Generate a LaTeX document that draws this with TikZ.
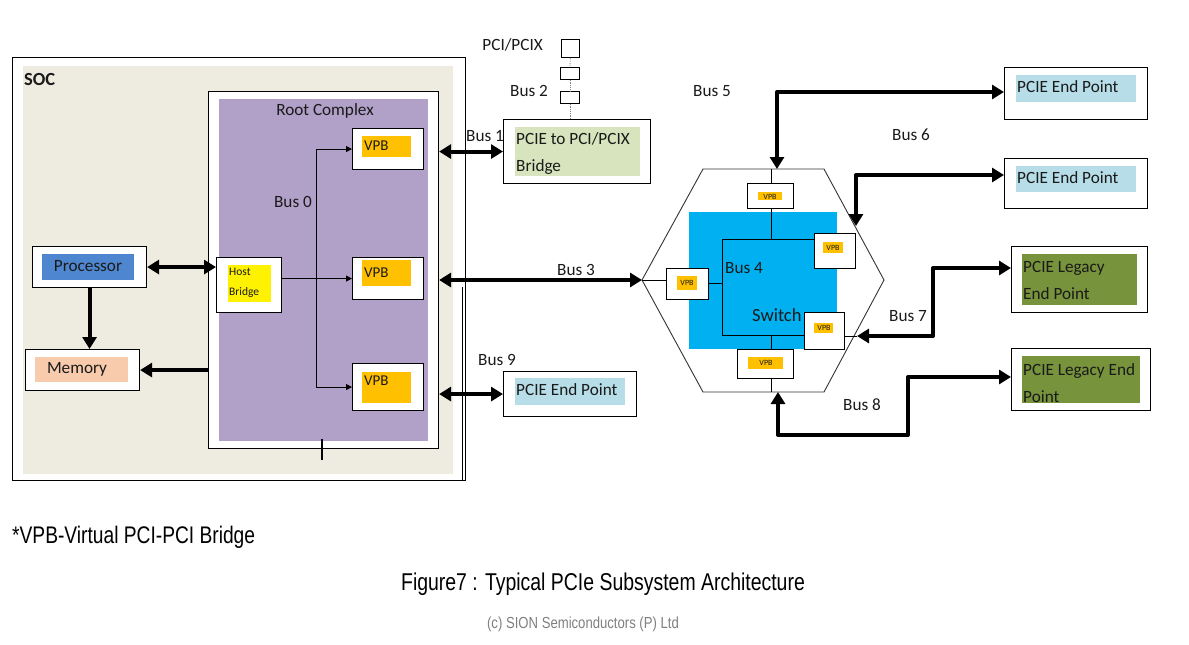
\documentclass[tikz,border=0pt]{standalone}
\usepackage{fontspec}
\usepackage{graphicx}
\setmainfont{Carlito}
\newfontfamily\arialf{Liberation Sans}
\usetikzlibrary{arrows.meta}
\definecolor{beige}{HTML}{EEECE1}
\definecolor{rcpurple}{HTML}{B1A0C7}
\definecolor{procblue}{HTML}{4F86D0}
\definecolor{peach}{HTML}{F8CBAD}
\definecolor{bridgegreen}{HTML}{D7E4BD}
\definecolor{epblue}{HTML}{B7DEE8}
\definecolor{olive}{HTML}{77933C}
\definecolor{swblue}{HTML}{00B0F0}
\definecolor{vpborange}{HTML}{FFC000}
\definecolor{txt}{HTML}{1A1A1A}
\newcommand\R[7]{\node[#2,anchor=north west,inner sep=0pt,minimum width={(#5)-(#3)},minimum height={(#6)-(#4)}] (#1) at (#3,#4) {#7};}
\tikzset{
  box/.style={draw=black,line width=1.1pt,fill=white},
  fillonly/.style={fill=#1,draw=none},
  lbl/.style={font=\fontsize{17.2}{20}\selectfont,text=txt,inner sep=0pt,anchor=west},
  lbltwo/.style={font=\fontsize{17.2}{27}\selectfont,text=txt,inner sep=0pt,anchor=north west,align=left},
  smallvpb/.style={font=\fontsize{8}{9}\selectfont,text=txt,inner sep=0pt},
  bigarr/.style={line width=4pt,line join=round,{Triangle[length=12pt,width=14pt]}-{Triangle[length=12pt,width=14pt]}},
  bigone/.style={line width=4pt,line join=round,-{Triangle[length=12pt,width=14pt]}},
  thinarr/.style={line width=1pt,-{Triangle[length=6pt,width=6pt]}},
  thinline/.style={line width=1pt},
}
\begin{document}
\begin{tikzpicture}[x=1pt,y=-1pt]
\useasboundingbox (0,0) rectangle (1189,645);
% SOC
\R{soc}{box,line width=1.2pt}{12}{57}{465}{480}{}
\R{socbg}{fillonly=beige}{23}{66}{453}{474}{}
\coordinate (socj) at (462,287);
\draw[line width=1pt] (socj) -- (socj |- soc.south);
\node[font=\fontsize{18.5}{20}\selectfont\bfseries,text=txt,inner sep=0pt,anchor=west] (soct) at (24,79) {SOC};
% Root complex
\R{rc}{box}{208}{91}{438}{448}{}
\R{rcp}{fillonly=rcpurple}{219}{99}{428}{441}{}
\node[lbl,anchor=center] (rct) at (325,111) {Root Complex};
\R{vpb1}{box}{352}{128}{423}{169}{}
\R{vpb1o}{fillonly=vpborange}{362}{136}{411}{157}{}
\R{vpb2}{box}{352}{257}{423}{299}{}
\R{vpb2o}{fillonly=vpborange}{362}{260}{411}{286}{}
\R{vpb3}{box}{352}{363}{423}{410}{}
\R{vpb3o}{fillonly=vpborange}{362}{372}{411}{403}{}
\node[lbl,font=\fontsize{15}{18}\selectfont] (vpb1t) at (364,146) {VPB};
\node[lbl,font=\fontsize{15}{18}\selectfont] (vpb2t) at (364,273) {VPB};
\node[lbl,font=\fontsize{15}{18}\selectfont] (vpb3t) at (364,381) {VPB};
\R{hb}{box}{216}{257}{281}{312}{}
\R{hby}{fillonly=yellow}{228}{265}{271}{302}{}
\node[lbltwo,font=\fontsize{11.5}{20}\selectfont] (hbt) at (229,268) {Host\\Bridge};
% Bus 0
\coordinate (b0x) at (316,0);
\draw[thinline] (vpb1.west -| b0x) -- (vpb3.west -| b0x);
\draw[thinarr] (vpb1.west -| b0x) -- (vpb1.west);
\draw[thinarr] (vpb3.west -| b0x) -- (vpb3.west);
\draw[thinarr] (hb.east |- vpb2.west) -- (vpb2.west);
\node[lbl,anchor=center] (b0t) at (293,202) {Bus 0};
\coordinate (tk) at (322,460);
\draw[line width=1.2pt] (tk) -- ++(0,-21);
% Processor, memory
\R{proc}{box}{32}{246}{146}{287}{}
\R{procb}{fillonly=procblue}{42}{254}{134}{280}{}
\node[lbl,anchor=center] (proct) at (88,266) {Processor};
\R{mem}{box}{25}{349}{139}{390}{}
\R{memp}{fillonly=peach}{35}{357}{128}{382}{}
\node[lbl,anchor=center] (memt) at (77,369) {Memory};
\draw[bigarr] (proc.east) -- (proc.east -| hb.west);
\draw[bigone] (proc.south) -- (proc.south |- mem.north);
\draw[bigone] (rc.west |- mem.east) -- (mem.east);
% PCI/PCIX bridge
\R{br}{box}{503}{119}{650}{183}{}
\R{brg}{fillonly=bridgegreen}{515}{127}{640}{176}{}
\node[lbltwo] (brt) at (516,132) {PCIE to PCI/PCIX\\Bridge};
\R{p1}{draw=black,line width=0.8pt,fill=white}{561}{39}{579}{57}{}
\R{p2}{draw=black,line width=0.8pt,fill=white}{560}{67}{579}{79}{}
\R{p3}{draw=black,line width=0.8pt,fill=white}{560}{91}{579}{103}{}
\draw[gray,densely dotted,line width=0.8pt] (p1.south) -- (p2.north);
\draw[gray,densely dotted,line width=0.8pt] (p2.south) -- (p3.north);
\draw[gray,densely dotted,line width=0.8pt] (p3.south) -- (p3.south |- br.north);
\node[lbl,anchor=east] (pcit) at (543,45) {PCI/PCIX};
\node[lbl] (b2t) at (510,91) {Bus 2};
\draw[bigarr] (rc.east |- br.west) -- (br.west);
\node[lbl] (b1t) at (466,136) {Bus 1};
% Bus 9 endpoint
\R{ep9}{box}{503}{371}{636}{416}{}
\R{ep9b}{fillonly=epblue}{515}{378}{625}{405}{}
\node[lbl] (ep9t) at (516,390) {PCIE End Point};
\draw[bigarr] (rc.east |- ep9.west) -- (ep9.west);
\node[lbl] (b9t) at (478,360) {Bus 9};
% Switch
\coordinate (hl) at (642,280);
\coordinate (htl) at (703,169);
\coordinate (htr) at (824,169);
\coordinate (hr) at (884,280);
\coordinate (hbr) at (824,392);
\coordinate (hbl) at (703,392);
\draw[line width=0.9pt,draw=black!80] (hl) -- (htl) -- (htr) -- (hr) -- (hbr) -- (hbl) -- cycle;
\R{swb}{fillonly=swblue}{689}{212}{837}{349}{}
\node[lbl,font=\fontsize{18.5}{20}\selectfont] (swt) at (752,315) {Switch};
\node[lbl] (b4t) at (725,268) {Bus 4};
\R{vT}{box,line width=0.9pt}{747}{183}{793}{208}{}
\R{vTo}{fillonly=vpborange}{758}{192}{782}{200}{}
\node[smallvpb] (vTt) at (770,197) {VPB};
\R{vL}{box,line width=0.9pt}{666}{268}{708}{299}{}
\R{vLo}{fillonly=vpborange}{677}{276}{697}{290}{}
\node[smallvpb] (vLt) at (687,283) {VPB};
\R{vR1}{box,line width=0.9pt}{814}{233}{855}{268}{}
\R{vR1o}{fillonly=vpborange}{823}{242}{843}{253}{}
\node[smallvpb] (vR1t) at (833,248) {VPB};
\R{vR2}{box,line width=0.9pt}{804}{312}{844}{349}{}
\R{vR2o}{fillonly=vpborange}{814}{323}{833}{333}{}
\node[smallvpb] (vR2t) at (824,328) {VPB};
\R{vB}{box,line width=0.9pt}{737}{349}{793}{378}{}
\R{vBo}{fillonly=vpborange}{748}{357}{783}{369}{}
\node[smallvpb] (vBt) at (766,363) {VPB};
\coordinate (i1) at (722,239);
\coordinate (i2) at (722,335);
\coordinate (vx) at (771,0);
\draw[thinline] (vR1.west |- i1) -- (i1) -- (i2) -- (vR2.west |- i2);
\draw[thinline] (vL.east) -- (vL.east -| i1);
\draw[thinline] (hl) -- (vL.west |- hl);
\draw[thinline] (vT.south -| vx) -- (i1 -| vx);
\draw[thinline] (vT.north -| vx) -- (htl -| vx);
\draw[thinline] (i2 -| vx) -- (vB.north -| vx);
\draw[thinline] (vB.south -| vx) -- (hbl -| vx);
% Bus 3
\draw[bigarr] (rc.east |- hl) -- (hl);
\node[lbl] (b3t) at (557,270) {Bus 3};
% Right endpoints
\R{ep1}{box}{1004}{67}{1147}{119}{}
\R{ep1b}{fillonly=epblue}{1016}{75}{1136}{102}{}
\node[lbl] (ep1t) at (1017,87) {PCIE End Point};
\R{ep2}{box}{1004}{158}{1147}{208}{}
\R{ep2b}{fillonly=epblue}{1016}{166}{1136}{192}{}
\node[lbl] (ep2t) at (1017,178) {PCIE End Point};
\R{lg1}{box}{1011}{246}{1147}{312}{}
\R{lg1b}{fillonly=olive}{1022}{254}{1137}{305}{}
\node[lbltwo] (lg1t) at (1023,261) {PCIE Legacy\\End Point};
\R{lg2}{box}{1011}{348}{1150}{410}{}
\R{lg2b}{fillonly=olive}{1022}{356}{1140}{403}{}
\node[lbltwo] (lg2t) at (1023,363) {PCIE Legacy End\\Point};
% Bus 5
\coordinate (b5c) at (777,92);
\draw[bigarr] (b5c |- htl) -- (b5c) -- (ep1.west |- b5c);
\node[lbl] (b5t) at (693,91) {Bus 5};
% Bus 6
\coordinate (b6a) at (856,226);
\coordinate (b6c) at (856,175);
\draw[bigarr] (b6a) -- (b6c) -- (ep2.west |- b6c);
\node[lbl] (b6t) at (892,135) {Bus 6};
% Bus 7
\coordinate (b7a) at (857,336);
\coordinate (b7c) at (933,268);
\draw[thinline] (vR2.east |- b7a) -- (b7a);
\draw[bigarr] (b7a) -| (b7c) -- (lg1.west |- b7c);
\node[lbl] (b7t) at (889,316) {Bus 7};
% Bus 8
\coordinate (b8a) at (778,435);
\coordinate (b8b) at (908,435);
\coordinate (b8c) at (908,377);
\draw[bigarr] (b8a |- hbl) -- (b8a) -- (b8b) -- (b8c) -- (lg2.west |- b8c);
\node[lbl] (b8t) at (843,405) {Bus 8};
% Bottom texts
\node[inner sep=0pt,anchor=west] (note) at (12,537) {\arialf\fontsize{24}{26}\selectfont\scalebox{0.8}[1]{*VPB-Virtual PCI-PCI Bridge}};
\node[inner sep=0pt] (cap) at (603,584) {\arialf\fontsize{24.3}{26}\selectfont\scalebox{0.8}[1]{Figure7 : Typical PCIe Subsystem Architecture}};
\node[inner sep=0pt,text=gray] (copy) at (583,624) {\arialf\fontsize{16}{18}\selectfont\scalebox{0.82}[1]{(c) SION Semiconductors (P) Ltd}};
\end{tikzpicture}
\end{document}
